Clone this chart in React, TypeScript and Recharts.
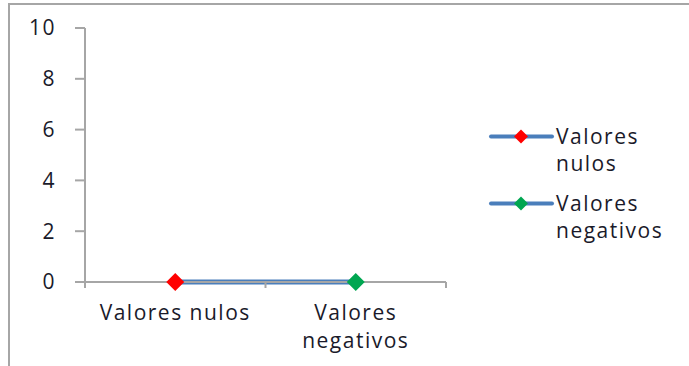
import { ComposedChart, Line, XAxis, YAxis, Legend } from "recharts";

const categories = ["Valores nulos", "Valores negativos"];
const values = [0, 0];
const pointColors = ["#ff0000", "#00a651"];
const yTicks = [0, 2, 4, 6, 8, 10];

const data = categories.map((name, i) => ({ name, value: values[i], color: pointColors[i] }));

const LINE = "#4a7ebb";
const AXIS = "#a6a6a6";
const INK = "#1a1a2a";
const FONT = "'Open Sans', sans-serif";
const FONT_SIZE = 21;
const SPACING = 1.5;

let ctx: CanvasRenderingContext2D | null = null;
const textWidth = (s: string) => {
  if (!ctx) ctx = document.createElement("canvas").getContext("2d");
  if (!ctx) return s.length * FONT_SIZE * 0.55;
  ctx.font = `${FONT_SIZE}px ${FONT}`;
  return ctx.measureText(s).width + s.length * SPACING;
};

// greedy word wrap into the available band width
const wrap = (label: string, maxWidth: number) => {
  const lines: string[] = [];
  let current = "";
  for (const word of label.split(" ")) {
    const next = current ? `${current} ${word}` : word;
    if (current && textWidth(next) > maxWidth) {
      lines.push(current);
      current = word;
    } else {
      current = next;
    }
  }
  if (current) lines.push(current);
  return lines;
};

const Diamond = ({ cx, cy, fill, r = 8 }: { cx: number; cy: number; fill: string; r?: number }) => (
  <polygon
    points={`${cx},${cy - r} ${cx + r},${cy} ${cx},${cy + r} ${cx - r},${cy}`}
    fill={fill}
  />
);

const renderDot = (props: any) => {
  const { cx, cy, index, payload } = props;
  return <Diamond key={`dot-${index}`} cx={cx} cy={cy} fill={payload.color} r={9} />;
};

// label centred in its band, with tick marks on the band edges
const CategoryTick = (props: any) => {
  const { x, y, width, visibleTicksCount, index, payload } = props;
  const half = width / visibleTicksCount / 2;
  const lines = wrap(String(payload.value), half * 2 - 6);
  return (
    <g>
      <line x1={x - half} y1={y} x2={x - half} y2={y + 6} stroke={AXIS} strokeWidth={2} />
      {index === visibleTicksCount - 1 && (
        <line x1={x + half} y1={y} x2={x + half} y2={y + 6} stroke={AXIS} strokeWidth={2} />
      )}
      <text
        x={x}
        y={y + 38}
        textAnchor="middle"
        fontSize={FONT_SIZE}
        fontFamily={FONT}
        letterSpacing={SPACING}
        fill={INK}
      >
        {lines.map((line, i) => (
          <tspan key={i} x={x} dy={i === 0 ? 0 : 28}>
            {line}
          </tspan>
        ))}
      </text>
    </g>
  );
};

const LegendContent = () => (
  <div style={{ fontFamily: FONT, fontSize: FONT_SIZE, letterSpacing: SPACING, color: INK, lineHeight: "27px" }}>
    {data.map((d) => (
      <div key={d.name} style={{ display: "flex", alignItems: "flex-start", marginBottom: 13 }}>
        <svg width={68} height={27} style={{ flex: "none" }}>
          <line x1={3} y1={13.5} x2={64} y2={13.5} stroke={LINE} strokeWidth={4} strokeLinecap="round" />
          <Diamond cx={33} cy={13.5} fill={d.color} r={7} />
        </svg>
        <span style={{ width: 110 }}>{d.name}</span>
      </div>
    ))}
  </div>
);

export default function App() {
  return (
    <div style={{ position: "absolute", left: 0, top: 0, width: 689, height: 366, overflow: "hidden", background: "#fff" }}>
      <div
        style={{
          position: "absolute",
          left: 8,
          top: 3,
          width: 720,
          height: 420,
          border: `2px solid ${AXIS}`,
        }}
      />
      <div style={{ position: "absolute", left: 0, top: 0 }}>
        <ComposedChart
          width={689}
          height={366}
          data={data}
          margin={{ top: 28, right: 243, bottom: 0, left: 0 }}
        >
          <XAxis
            dataKey="name"
            scale="band"
            height={84}
            stroke={AXIS}
            strokeWidth={2}
            tickLine={false}
            tickSize={0}
            tickMargin={0}
            interval={0}
            tick={<CategoryTick />}
          />
          <YAxis
            width={85}
            domain={[0, 10]}
            ticks={yTicks}
            interval={0}
            stroke={AXIS}
            strokeWidth={2}
            tickSize={10}
            tickMargin={19}
            tick={{ fill: INK, fontSize: FONT_SIZE, fontFamily: FONT, letterSpacing: SPACING }}
          />
          <Legend
            layout="vertical"
            align="center"
            verticalAlign="middle"
            content={<LegendContent />}
            wrapperStyle={{ left: 488, top: 123, width: 200 }}
          />
          <Line
            dataKey="value"
            stroke={LINE}
            strokeWidth={5}
            dot={renderDot}
            activeDot={false}
            isAnimationActive={false}
          />
        </ComposedChart>
      </div>
    </div>
  );
}
